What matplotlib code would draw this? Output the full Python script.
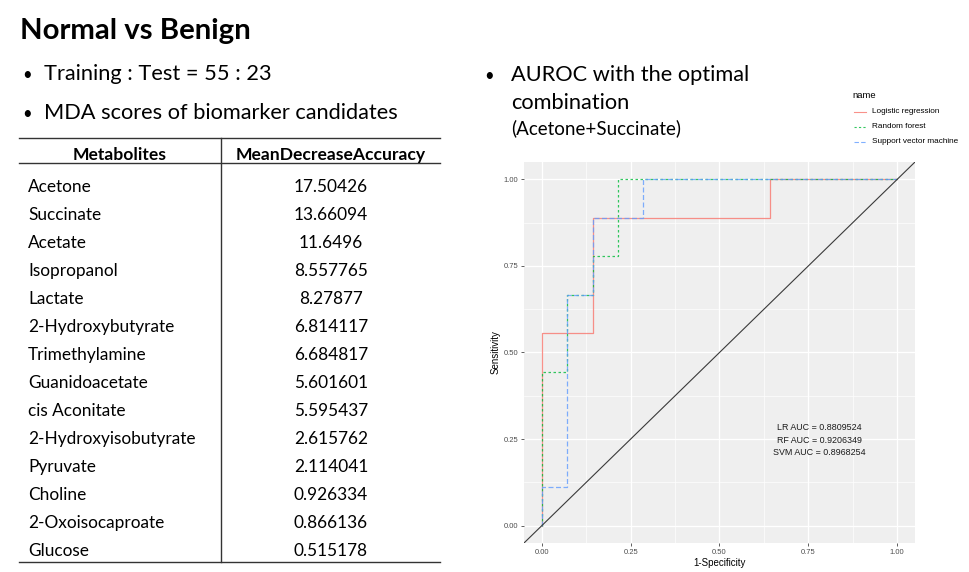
import matplotlib
matplotlib.use("Agg")
import matplotlib.pyplot as plt
from matplotlib.lines import Line2D
from matplotlib.ticker import MultipleLocator

# ---------------- data ----------------
metabolites = ["Acetone", "Succinate", "Acetate", "Isopropanol", "Lactate",
               "2-Hydroxybutyrate", "Trimethylamine", "Guanidoacetate",
               "cis Aconitate", "2-Hydroxyisobutyrate", "Pyruvate", "Choline",
               "2-Oxoisocaproate", "Glucose"]
mda_scores = ["17.50426", "13.66094", "11.6496", "8.557765", "8.27877",
              "6.814117", "6.684817", "5.601601", "5.595437", "2.615762",
              "2.114041", "0.926334", "0.866136", "0.515178"]

model_names = ["Logistic regression", "Random forest", "Support vector machine"]
lr_fpr = [0.0, 0.0, 0.1429, 0.1429, 0.6429, 0.6429, 1.0]
lr_tpr = [0.0, 0.5556, 0.5556, 0.8889, 0.8889, 1.0, 1.0]
rf_fpr = [0.0, 0.0, 0.0714, 0.0714, 0.1429, 0.1429, 0.2143, 0.2143, 1.0]
rf_tpr = [0.0, 0.4444, 0.4444, 0.6667, 0.6667, 0.7778, 0.7778, 1.0, 1.0]
svm_fpr = [0.0, 0.0, 0.0714, 0.0714, 0.1429, 0.1429, 0.2857, 0.2857, 1.0]
svm_tpr = [0.0, 0.1111, 0.1111, 0.6667, 0.6667, 0.8889, 0.8889, 1.0, 1.0]
auc_labels = ["LR AUC = 0.8809524", "RF AUC = 0.9206349", "SVM AUC = 0.8968254"]

colors = ["#F8766D", "#00BA38", "#619CFF"]
dashes = [None, (2, 2), (4, 2)]

# ---------------- figure ----------------
W, H = 970, 572
fig = plt.figure(figsize=(W / 100, H / 100), dpi=100)
fig.patch.set_facecolor("white")

def fx(px):
    return px / W

def fy(py):
    return 1 - py / H

SLIDE = "Lato"
GG = "Liberation Sans"
BODY = 15.7

# left side text
fig.text(fx(20), fy(39), "Normal vs Benign", fontsize=21.2, fontweight="bold",
         family=SLIDE, va="baseline", ha="left")
fig.text(fx(22), fy(80), "•", fontsize=12, family=SLIDE, va="baseline")
fig.text(fx(44), fy(80), "Training : Test = 55 : 23", fontsize=BODY,
         family=SLIDE, va="baseline")
fig.text(fx(22), fy(119), "•", fontsize=12, family=SLIDE, va="baseline")
fig.text(fx(44), fy(119), "MDA scores of biomarker candidates", fontsize=BODY,
         family=SLIDE, va="baseline")

# table
for yline in (138, 163, 562):
    fig.add_artist(Line2D([fx(19), fx(440)], [fy(yline), fy(yline)],
                          color="#333333", lw=1.0))
fig.add_artist(Line2D([fx(221), fx(221)], [fy(138), fy(562)],
                      color="#333333", lw=1.0))
fig.text(fx(120), fy(160), "Metabolites", fontsize=12.6, fontweight="bold",
         family=SLIDE, ha="center", va="baseline")
fig.text(fx(331), fy(160), "MeanDecreaseAccuracy", fontsize=12.6,
         fontweight="bold", family=SLIDE, ha="center", va="baseline")
for i, (m, s) in enumerate(zip(metabolites, mda_scores)):
    yb = 192 + 28 * i
    fig.text(fx(28), fy(yb), m, fontsize=12.4, family=SLIDE, va="baseline")
    fig.text(fx(331), fy(yb), s, fontsize=12.4, family=SLIDE, va="baseline",
             ha="center")

# right side text
fig.text(fx(484), fy(81), "•", fontsize=12, family=SLIDE, va="baseline")
fig.text(fx(511), fy(81), "AUROC with the optimal", fontsize=BODY,
         family=SLIDE, va="baseline")
fig.text(fx(511), fy(109), "combination", fontsize=BODY, family=SLIDE,
         va="baseline")
fig.text(fx(511), fy(134), "(Acetone+Succinate)", fontsize=13.5,
         family=SLIDE, va="baseline")

# ---------------- ROC panel (ggplot style) ----------------
ax = fig.add_axes([fx(524), fy(543), (915 - 524) / W, (543 - 162) / H])
ax.set_facecolor("#EFEFEF")
ax.set_xlim(-0.05, 1.05)
ax.set_ylim(-0.05, 1.05)
ax.xaxis.set_minor_locator(MultipleLocator(0.125))
ax.yaxis.set_minor_locator(MultipleLocator(0.125))
ax.set_xticks([0, 0.25, 0.5, 0.75, 1.0])
ax.set_yticks([0, 0.25, 0.5, 0.75, 1.0])
ax.set_xticklabels(["0.00", "0.25", "0.50", "0.75", "1.00"], family=GG)
ax.set_yticklabels(["0.00", "0.25", "0.50", "0.75", "1.00"], family=GG)
ax.grid(which="major", color="white", lw=0.9)
ax.grid(which="minor", color="white", lw=0.45)
ax.set_axisbelow(True)
for sp in ax.spines.values():
    sp.set_visible(False)
ax.tick_params(which="major", length=2, width=0.6, color="#444444",
               labelsize=5.5, labelcolor="#4D4D4D", pad=2)
ax.tick_params(which="minor", length=0)
ax.set_xlabel("1-Specificity", fontsize=7, family=GG, labelpad=2)
ax.set_ylabel("Sensitivity", fontsize=7, family=GG, labelpad=2)

curves = [(lr_fpr, lr_tpr), (rf_fpr, rf_tpr), (svm_fpr, svm_tpr)]
for (xv, yv), c, d in zip(curves, colors, dashes):
    ln, = ax.plot(xv, yv, color=c, lw=0.9, alpha=0.8)
    if d is not None:
        ln.set_dashes(d)

ax.axline((0, 0), slope=1, color="#3A3A3A", lw=0.8)

ax.text(0.78, 0.246, "\n".join(auc_labels), fontsize=6.4, family=GG,
        ha="center", va="center", linespacing=1.5, color="#1A1A1A")

# legend (manual, ggplot style)
fig.text(fx(852), fy(95), "name", fontsize=6.8, family=GG, va="center")
for i, (nm, c, d) in enumerate(zip(model_names, colors, dashes)):
    yy = 111.5 + 15 * i
    ln = Line2D([fx(854), fx(866)], [fy(yy), fy(yy)], color=c, lw=0.8,
                alpha=0.8)
    if d is not None:
        ln.set_dashes(d)
    fig.add_artist(ln)
    fig.text(fx(872), fy(yy), nm, fontsize=5.9, family=GG, va="center")

fig.savefig("out.png", dpi=100)
